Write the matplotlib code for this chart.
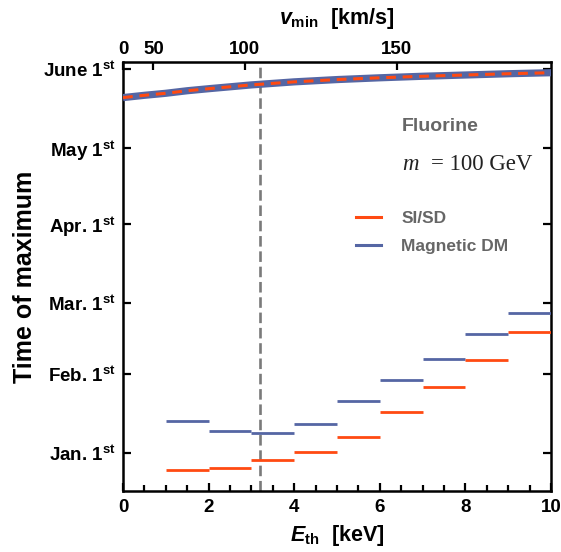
import numpy as np
import matplotlib
matplotlib.use("Agg")
import matplotlib.pyplot as plt
from matplotlib.lines import Line2D

plt.rcParams['font.family'] = ['Liberation Sans', 'DejaVu Sans']
plt.rcParams['font.weight'] = 'bold'
plt.rcParams['mathtext.fontset'] = 'custom'
plt.rcParams['mathtext.rm'] = 'Liberation Sans:bold'
plt.rcParams['mathtext.bf'] = 'Liberation Sans:bold'
plt.rcParams['mathtext.it'] = 'Liberation Sans:italic:bold'

# ---- data ----
bin_edges = [1, 2, 3, 4, 5, 6, 7, 8, 9, 10]
si_sd_days = [-6.8, -5.9, -3.0, 0.2, 6.3, 16.1, 25.9, 36.5, 47.5]
magnetic_days = [12.5, 8.4, 7.9, 11.1, 20.2, 28.6, 37.0, 46.7, 55.0]

curve_E = [0, 0.5, 1, 1.5, 2, 3, 4, 5, 6, 7, 8, 9, 10]
curve_days = [139.8, 140.7, 141.5, 142.5, 143.3, 144.8, 146.0, 146.9, 147.6, 148.2, 148.7, 149.2, 149.6]

month_days = [0, 31, 59, 90, 120, 151]
month_labels = [r"Jan. 1$^{\rm st}$", r"Feb. 1$^{\rm st}$", r"Mar. 1$^{\rm st}$",
                r"Apr. 1$^{\rm st}$", r"May 1$^{\rm st}$", r"June 1$^{\rm st}$"]
vmin_ticks = [0, 50, 100, 150]
E_threshold_line = 3.2
k_vmin = 59.3  # km/s per sqrt(keV)

orange = "#FF4A12"
blue = "#5566A4"

fig = plt.figure(figsize=(5.61, 5.52), dpi=100)
ax = fig.add_axes([123/561, 1-490.7/552, (551-123)/561, (490.7-62.3)/552])

# top curves
ax.plot(curve_E, curve_days, color=blue, lw=5.2, solid_capstyle='butt', zorder=3)
ax.plot(curve_E, curve_days, color=orange, lw=2.2, dashes=(3.2, 2.2), zorder=4)

# steps
ax.hlines(magnetic_days, bin_edges[:-1], bin_edges[1:], color=blue, lw=2.0, zorder=3)
ax.hlines(si_sd_days, bin_edges[:-1], bin_edges[1:], color=orange, lw=2.0, zorder=3)

ax.axvline(E_threshold_line, color="#7a7a7a", lw=1.9, dashes=(4.0, 1.8), zorder=2)

ax.set_xlim(0, 10)
ax.set_ylim(-15, 153.7)

ax.set_xticks([0, 2, 4, 6, 8, 10])
ax.set_xticks(np.arange(0, 10.01, 0.5), minor=True)
ax.set_yticks(month_days)
ax.set_yticklabels(month_labels)
ax.tick_params(axis='both', which='both', direction='in', width=1.6, labelsize=13.5)
ax.tick_params(axis='x', which='major', length=6, pad=6)
ax.tick_params(axis='x', which='minor', length=4)
ax.tick_params(axis='y', which='major', length=6, right=True, pad=5)
for s in ax.spines.values():
    s.set_linewidth(1.8)

for lab in ax.get_xticklabels() + ax.get_yticklabels():
    lab.set_fontweight('bold')

sec = ax.secondary_xaxis('top', functions=(lambda E: k_vmin*np.sqrt(np.clip(E, 0, None)),
                                           lambda v: (np.asarray(v)/k_vmin)**2))
sec.set_xticks(vmin_ticks)
sec.tick_params(direction='in', length=6, width=1.6, labelsize=13.5, pad=3)
for lab in sec.get_xticklabels():
    lab.set_fontweight('bold')
sec.set_xlabel(r"$v_{\rm min}$  [km/s]", fontsize=15.5, fontweight='bold', labelpad=12)

ax.set_xlabel(r"$E_{\rm th}$  [keV]", fontsize=15.5, fontweight='bold', labelpad=5)
ax.set_ylabel("Time of maximum", fontsize=18, fontweight='bold', labelpad=4)

# annotations
fig.text(402/561, 1-126.7/552, "Fluorine", fontsize=14,
         fontweight='bold', color="#666666", va='center', ha='left')
fig.text(402/561, 1-164/552, "m", fontsize=16.5, family='Liberation Serif',
         fontweight='normal', style='italic', color="#222222", va='center', ha='left')
fig.text(431/561, 1-164/552, "= 100 GeV", fontsize=16.5, family='Liberation Serif',
         fontweight='normal', color="#222222", va='center', ha='left')

handles = [Line2D([], [], color=orange, lw=2.2), Line2D([], [], color=blue, lw=2.2)]
leg = ax.legend(handles, ["SI/SD", "Magnetic DM"], loc='upper left',
                bbox_to_anchor=(356/561, 1-211/552), bbox_transform=fig.transFigure,
                frameon=False, fontsize=12.5, handlelength=1.45, handletextpad=1.15,
                labelspacing=0.75, borderpad=0, borderaxespad=0)
for t in leg.get_texts():
    t.set_color("#666666")
    t.set_fontweight('bold')

fig.savefig("out.png", dpi=100)
